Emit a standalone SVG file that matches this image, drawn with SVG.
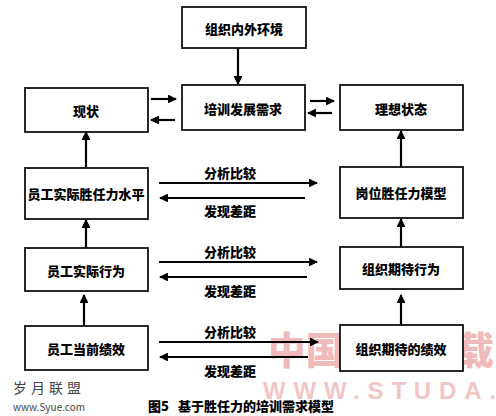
<svg xmlns="http://www.w3.org/2000/svg" width="496" height="416" viewBox="0 0 496 416">
<defs>
<marker id="ah" viewBox="0 0 10 10" refX="9" refY="5" markerWidth="4" markerHeight="4" orient="auto" markerUnits="strokeWidth">
<path d="M0,0 L10,5 L0,10 z" fill="#000"/>
</marker>
<style>
.box{fill:#fff;stroke:#111;stroke-width:1.8}
.t{font-family:"Noto Sans CJK SC","Noto Sans CJK JP",sans-serif;font-weight:900;font-size:13px;fill:#000;text-anchor:middle;dominant-baseline:central}
.lbl{font-family:"Noto Sans CJK SC","Noto Sans CJK JP",sans-serif;font-weight:900;font-size:13px;fill:#000;text-anchor:middle;dominant-baseline:central}
.c{stroke:#000;stroke-width:2.2;fill:none;marker-end:url(#ah)}
.wm{font-family:"Noto Sans CJK SC",sans-serif;font-weight:900;fill:#f1baba}
.wm2{font-family:"Liberation Sans",sans-serif;font-weight:bold;fill:#f3c6c6}
.sy{font-family:"Noto Sans CJK SC",sans-serif;fill:#444;text-anchor:middle;dominant-baseline:central}
</style>
</defs>
<rect width="496" height="416" fill="#fff"/>
<g id="watermark">
<text class="wm" x="268" y="364" font-size="38" textLength="226" lengthAdjust="spacingAndGlyphs">中国论文下载</text>
<text class="wm2" x="263" y="399" font-size="24" textLength="233" lengthAdjust="spacing">WWW.STUDA.</text>
</g>
<g id="connectors">
<line class="c" x1="238" y1="48" x2="238" y2="84"/>
<line class="c" x1="151" y1="99" x2="176" y2="99"/>
<line class="c" x1="175" y1="120" x2="151" y2="120"/>
<line class="c" x1="310" y1="101" x2="334" y2="101"/>
<line class="c" x1="332" y1="113" x2="308" y2="113"/>
<line class="c" x1="86" y1="167" x2="86" y2="132"/>
<line class="c" x1="401" y1="167" x2="401" y2="131"/>
<line class="c" x1="86" y1="248" x2="86" y2="220"/>
<line class="c" x1="401" y1="247" x2="401" y2="219"/>
<line class="c" x1="84" y1="326" x2="84" y2="295"/>
<line class="c" x1="401" y1="325" x2="401" y2="295"/>
<line class="c" x1="159" y1="183" x2="317" y2="183"/>
<line class="c" x1="305" y1="198" x2="160" y2="198"/>
<line class="c" x1="159" y1="262" x2="317" y2="262"/>
<line class="c" x1="307" y1="277" x2="160" y2="277"/>
<line class="c" x1="159" y1="342" x2="318" y2="342"/>
<line class="c" x1="308" y1="357" x2="160" y2="357"/>
<text class="lbl" x="230" y="172">分析比较</text>
<text class="lbl" x="230" y="210">发现差距</text>
<text class="lbl" x="230" y="251">分析比较</text>
<text class="lbl" x="230" y="290">发现差距</text>
<text class="lbl" x="230" y="331">分析比较</text>
<text class="lbl" x="230" y="370">发现差距</text>
</g>
<g id="env"><rect class="box" x="182" y="7" width="124" height="41"/><text class="t" x="244" y="28">组织内外环境</text></g>
<g id="xianzhuang"><rect class="box" x="25" y="88" width="123" height="44"/><text class="t" x="86" y="110">现状</text></g>
<g id="need"><rect class="box" x="182" y="85" width="123" height="45"/><text class="t" x="243" y="108">培训发展需求</text></g>
<g id="ideal"><rect class="box" x="340" y="85" width="123" height="45"/><text class="t" x="401" y="108">理想状态</text></g>
<g id="comp-level"><rect class="box" x="25" y="168" width="123" height="51"/><text class="t" x="86" y="193">员工实际胜任力水平</text></g>
<g id="comp-model"><rect class="box" x="340" y="167" width="123" height="51"/><text class="t" x="401" y="192">岗位胜任力模型</text></g>
<g id="actual-behavior"><rect class="box" x="25" y="248" width="123" height="43"/><text class="t" x="86" y="270">员工实际行为</text></g>
<g id="expected-behavior"><rect class="box" x="340" y="247" width="123" height="42"/><text class="t" x="401" y="268">组织期待行为</text></g>
<g id="current-perf"><rect class="box" x="25" y="326" width="123" height="44"/><text class="t" x="86" y="348">员工当前绩效</text></g>
<g id="expected-perf"><rect class="box" x="340" y="325" width="123" height="46"/><text class="t" x="401" y="348">组织期待的绩效</text></g>
<g id="caption">
<text class="t" x="241" y="405" xml:space="preserve">图5   基于胜任力的培训需求模型</text>
<text class="sy" x="49" y="387" font-size="14" letter-spacing="4">岁月联盟</text>
<text class="sy" x="49" y="406" font-size="10" font-family="Liberation Sans,sans-serif">www.Syue.com</text>
</g>
</svg>
